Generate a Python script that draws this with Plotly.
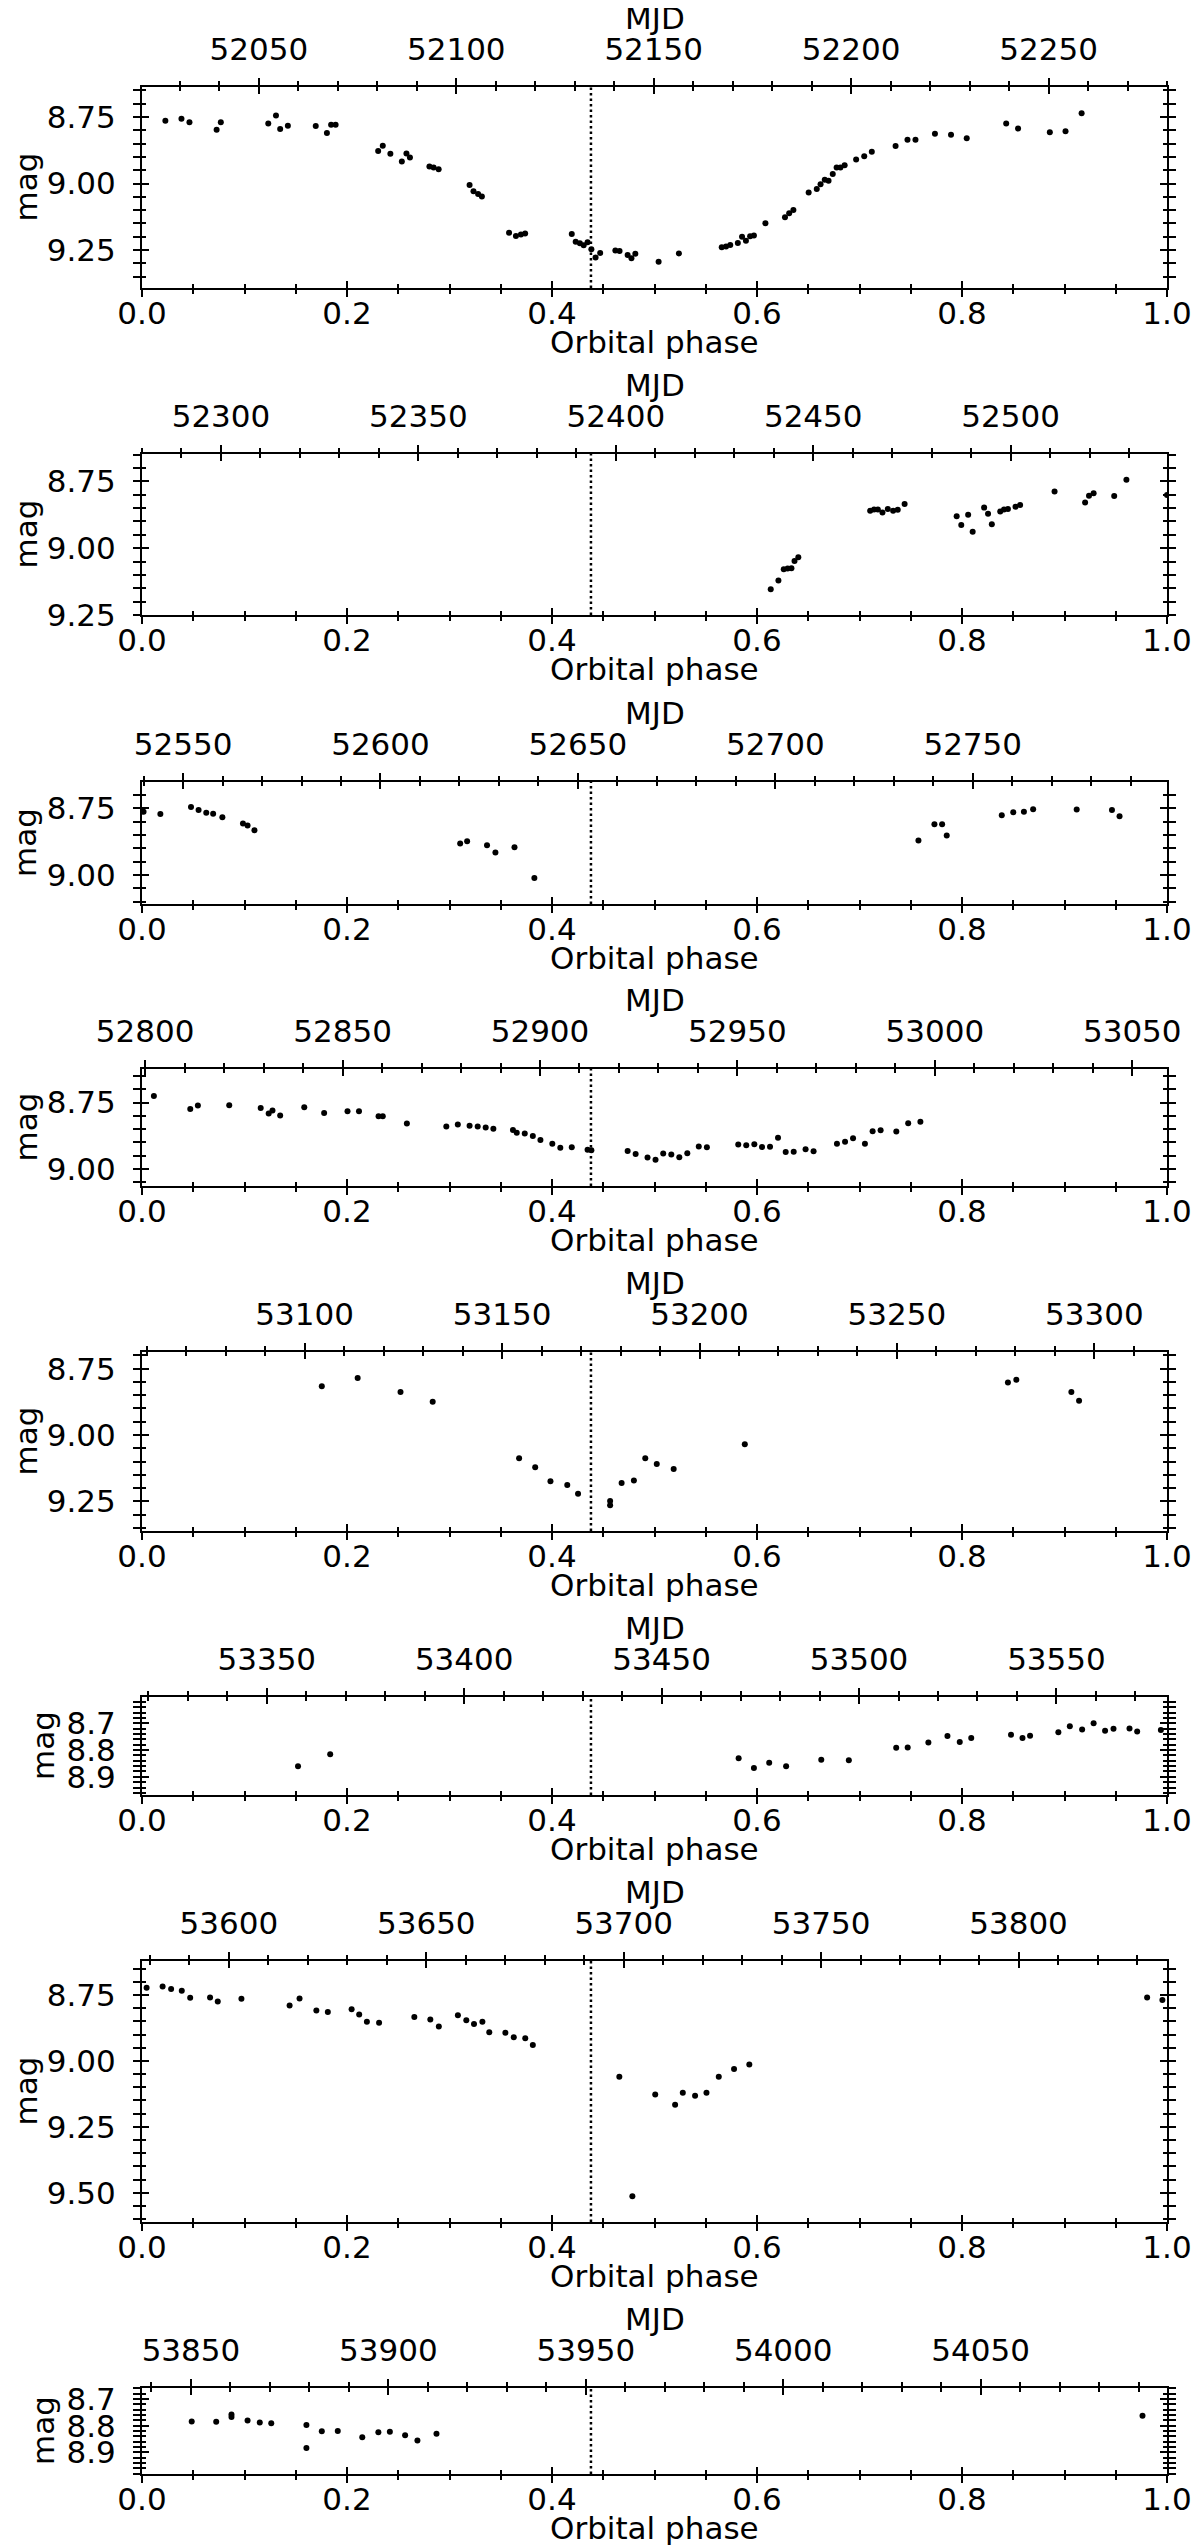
import plotly.graph_objects as go

# orbital ephemeris used for the MJD (top) axes
ORBIT_T0 = 52020.4
PERIOD = 259.6
PHASE_LINE = 0.438

# one list pair per orbital cycle
phase_c1 = [0.0228, 0.0385, 0.0463, 0.0728, 0.0769, 0.1232, 0.1307, 0.1348, 0.1423, 0.1695,
            0.1804, 0.1845, 0.1889, 0.2304, 0.2349, 0.2423, 0.2535, 0.2580, 0.2614, 0.2804,
            0.2845, 0.2894, 0.3196, 0.3234, 0.3279, 0.3316, 0.3581, 0.3648, 0.3697, 0.3738,
            0.4193, 0.4231, 0.4272, 0.4309, 0.4347, 0.4384, 0.4425, 0.4470, 0.4618, 0.4659,
            0.4738, 0.4775, 0.4813, 0.5040, 0.5238, 0.5656, 0.5698, 0.5739, 0.5813, 0.5854,
            0.5892, 0.5933, 0.5970, 0.6082, 0.6273, 0.6314, 0.6355, 0.6504, 0.6583, 0.6620,
            0.6661, 0.6698, 0.6739, 0.6777, 0.6814, 0.6855, 0.6967, 0.7046, 0.7120, 0.7352,
            0.7468, 0.7546, 0.7736, 0.7893, 0.8046, 0.8431, 0.8547, 0.8857, 0.9010, 0.9167]
mag_c1 = [8.764, 8.756, 8.770, 8.798, 8.770, 8.774, 8.744, 8.795, 8.783, 8.784,
          8.810, 8.779, 8.779, 8.878, 8.858, 8.888, 8.917, 8.887, 8.902, 8.936,
          8.940, 8.946, 9.006, 9.029, 9.039, 9.049, 9.185, 9.197, 9.192, 9.188,
          9.190, 9.219, 9.225, 9.232, 9.221, 9.247, 9.278, 9.261, 9.252, 9.254,
          9.269, 9.281, 9.264, 9.294, 9.263, 9.240, 9.237, 9.231, 9.224, 9.200,
          9.215, 9.198, 9.196, 9.149, 9.127, 9.112, 9.100, 9.034, 9.021, 9.003,
          8.986, 8.990, 8.964, 8.940, 8.940, 8.931, 8.910, 8.897, 8.881, 8.859,
          8.835, 8.835, 8.813, 8.817, 8.830, 8.774, 8.793, 8.807, 8.803, 8.736]

phase_c2 = [0.6134, 0.6209, 0.6261, 0.6299, 0.6336, 0.6366, 0.6403, 0.7104, 0.7142, 0.7179,
            0.7224, 0.7276, 0.7328, 0.7373, 0.7440, 0.7948, 0.7993, 0.8060, 0.8104, 0.8216,
            0.8254, 0.8291, 0.8373, 0.8410, 0.8448, 0.8522, 0.8567, 0.8903, 0.9201, 0.9239,
            0.9284, 0.9485, 0.9604, 1.0]
mag_c2 = [9.154, 9.121, 9.079, 9.076, 9.075, 9.048, 9.034, 8.860, 8.855, 8.855,
          8.866, 8.853, 8.860, 8.856, 8.835, 8.880, 8.913, 8.875, 8.938, 8.848,
          8.871, 8.910, 8.863, 8.855, 8.853, 8.845, 8.838, 8.788, 8.829, 8.804,
          8.794, 8.805, 8.744, 8.801]

phase_c3 = [0.0015, 0.0179, 0.0478, 0.0552, 0.0627, 0.0694, 0.0784, 0.0985, 0.1030, 0.1097,
            0.3104, 0.3172, 0.3366, 0.3448, 0.3634, 0.3828, 0.7575, 0.7731, 0.7806, 0.7851,
            0.8388, 0.8500, 0.8604, 0.8694, 0.9119, 0.9463, 0.9537]
mag_c3 = [8.763, 8.771, 8.745, 8.756, 8.766, 8.770, 8.783, 8.807, 8.814, 8.832,
          8.882, 8.873, 8.888, 8.916, 8.896, 9.011, 8.871, 8.810, 8.810, 8.852,
          8.776, 8.765, 8.763, 8.753, 8.754, 8.756, 8.780]

phase_c4 = [0.0116, 0.0471, 0.0545, 0.0851, 0.1158, 0.1236, 0.1273, 0.1348, 0.1583, 0.1777,
            0.2005, 0.2117, 0.2308, 0.2349, 0.2584, 0.2969, 0.3081, 0.3196, 0.3275, 0.3353,
            0.3428, 0.3619, 0.3656, 0.3734, 0.3813, 0.3887, 0.4003, 0.4081, 0.4193, 0.4347,
            0.4384, 0.4738, 0.4816, 0.4932, 0.5010, 0.5085, 0.5164, 0.5242, 0.5320, 0.5432,
            0.5511, 0.5817, 0.5895, 0.5974, 0.6049, 0.6127, 0.6205, 0.6280, 0.6358, 0.6474,
            0.6552, 0.6780, 0.6859, 0.6937, 0.7053, 0.7128, 0.7206, 0.7359, 0.7475, 0.7594]
mag_c4 = [8.726, 8.774, 8.761, 8.760, 8.771, 8.791, 8.780, 8.799, 8.768, 8.789,
          8.783, 8.783, 8.802, 8.802, 8.829, 8.840, 8.833, 8.837, 8.840, 8.844,
          8.849, 8.853, 8.864, 8.867, 8.876, 8.891, 8.905, 8.920, 8.918, 8.928,
          8.930, 8.932, 8.944, 8.957, 8.965, 8.942, 8.946, 8.956, 8.941, 8.915,
          8.918, 8.908, 8.911, 8.907, 8.917, 8.916, 8.883, 8.936, 8.935, 8.926,
          8.933, 8.905, 8.898, 8.884, 8.905, 8.858, 8.854, 8.859, 8.828, 8.822]

phase_c5 = [0.1754, 0.2104, 0.2522, 0.2836, 0.3679, 0.3836, 0.3985, 0.4149, 0.4254, 0.4567,
            0.4567, 0.4679, 0.4799, 0.4910, 0.5022, 0.5187, 0.5881, 0.8448, 0.8530, 0.9067,
            0.9142]
mag_c5 = [8.816, 8.785, 8.838, 8.875, 9.088, 9.122, 9.174, 9.189, 9.222, 9.249,
          9.265, 9.181, 9.172, 9.088, 9.109, 9.128, 9.035, 8.802, 8.792, 8.838,
          8.871]

phase_c6 = [0.1522, 0.1836, 0.5821, 0.5970, 0.6119, 0.6284, 0.6627, 0.6896, 0.7358, 0.7470,
            0.7672, 0.7858, 0.7978, 0.8090, 0.8478, 0.8590, 0.8664, 0.8940, 0.9052, 0.9172,
            0.9284, 0.9396, 0.9478, 0.9634, 0.9709, 0.9940]
mag_c6 = [8.861, 8.816, 8.831, 8.867, 8.848, 8.861, 8.836, 8.838, 8.792, 8.791,
          8.772, 8.748, 8.770, 8.755, 8.743, 8.755, 8.747, 8.734, 8.711, 8.723,
          8.700, 8.728, 8.721, 8.720, 8.731, 8.725]

phase_c7 = [0.0045, 0.0201, 0.0284, 0.0388, 0.0470, 0.0664, 0.0739, 0.0970, 0.1440, 0.1537,
            0.1701, 0.1813, 0.2045, 0.2119, 0.2194, 0.2313, 0.2657, 0.2813, 0.2896, 0.3082,
            0.3164, 0.3239, 0.3321, 0.3388, 0.3545, 0.3627, 0.3739, 0.3813, 0.4657, 0.4784,
            0.5007, 0.5201, 0.5276, 0.5396, 0.5507, 0.5627, 0.5776, 0.5925, 0.9806, 0.9955]
mag_c7 = [8.722, 8.718, 8.727, 8.734, 8.760, 8.759, 8.775, 8.764, 8.790, 8.763,
          8.809, 8.814, 8.804, 8.824, 8.851, 8.855, 8.833, 8.843, 8.869, 8.827,
          8.846, 8.860, 8.851, 8.891, 8.893, 8.910, 8.914, 8.940, 9.060, 9.513,
          9.127, 9.166, 9.121, 9.132, 9.121, 9.060, 9.031, 9.014, 8.759, 8.769]

phase_c8 = [0.0485, 0.0724, 0.0873, 0.0873, 0.1030, 0.1149, 0.1261, 0.1604, 0.1604, 0.1754,
            0.1910, 0.2149, 0.2306, 0.2418, 0.2567, 0.2687, 0.2873, 0.9761]
mag_c8 = [8.784, 8.785, 8.768, 8.758, 8.781, 8.788, 8.791, 8.798, 8.884, 8.821,
          8.820, 8.843, 8.825, 8.823, 8.836, 8.856, 8.830, 8.763]

phases = [phase_c1, phase_c2, phase_c3, phase_c4, phase_c5, phase_c6, phase_c7, phase_c8]
mags = [mag_c1, mag_c2, mag_c3, mag_c4, mag_c5, mag_c6, mag_c7, mag_c8]

# magnitude limits (bright, faint) and major step per panel
mag_lims = [(8.637, 9.393), (8.6475, 9.25), (8.651, 9.109), (8.624, 9.064),
            (8.687, 9.362), (8.602, 8.968), (8.621, 9.611), (8.659, 8.981)]
mag_steps = [0.25, 0.25, 0.25, 0.25, 0.25, 0.1, 0.25, 0.1]

# panel frame positions in page pixels (top, bottom)
W, H = 1200, 2546
L, R = 134, 41
panel_px = [(79, 280), (446, 607), (774, 896), (1061, 1178),
            (1344, 1523), (1689, 1787), (1953, 2214), (2380, 2466)]

FONT = dict(family="DejaVu Sans", size=31, color="black")


def nm(letter, n):
    return letter if n == 1 else f"{letter}{n}"


def key(letter, n):
    return f"{letter}axis" if n == 1 else f"{letter}axis{n}"


def py(px):
    return (H - px) / H


def px_x(px):
    return (px - L) / (W - L - R)


common = dict(showline=True, linecolor="black", linewidth=2, showgrid=False,
              zeroline=False, tickcolor="black", tickwidth=2, ticklen=7,
              tickfont=FONT, automargin=False, fixedrange=True)


def minor(side, dt):
    return dict(dtick=dt, ticks=side, ticklen=4, tickwidth=1.5,
                tickcolor="black", showgrid=False)


fig = go.Figure()
layout = {}
notes = []

for i in range(8):
    xb, xbi, xm, xmi = 4 * i + 1, 4 * i + 2, 4 * i + 3, 4 * i + 4
    yb, ybi = 2 * i + 1, 2 * i + 2
    top, bot = panel_px[i]
    lo, hi = mag_lims[i]
    step = mag_steps[i]
    t_start = ORBIT_T0 + i * PERIOD

    fig.add_trace(go.Scatter(
        x=phases[i], y=mags[i], mode="markers",
        marker=dict(color="black", size=6),
        xaxis=nm("x", xb), yaxis=nm("y", yb), showlegend=False))
    # empty traces so that the overlay axes get drawn
    for xa, ya in [(xbi, yb), (xm, yb), (xmi, yb), (xb, ybi)]:
        fig.add_trace(go.Scatter(x=[], y=[], xaxis=nm("x", xa), yaxis=nm("y", ya),
                                 showlegend=False, hoverinfo="skip"))

    layout[key("x", xb)] = dict(common, anchor=nm("y", yb), domain=[0, 1], side="bottom",
                                range=[0, 1], tick0=0, dtick=0.2, tickformat=".1f",
                                ticks="outside", minor=minor("outside", 0.05),
                                ticklabelstandoff=-10)
    layout[key("x", xbi)] = dict(common, anchor=nm("y", yb), overlaying=nm("x", xb),
                                 side="bottom", range=[0, 1], tick0=0, dtick=0.2,
                                 ticks="inside", minor=minor("inside", 0.05),
                                 showticklabels=False)
    layout[key("x", xm)] = dict(common, anchor=nm("y", yb), overlaying=nm("x", xb),
                                side="top", range=[t_start, t_start + PERIOD], tick0=0,
                                dtick=50, tickformat="d", ticks="outside",
                                minor=minor("outside", 10), ticklabelstandoff=6)
    layout[key("x", xmi)] = dict(common, anchor=nm("y", yb), overlaying=nm("x", xb),
                                 side="top", range=[t_start, t_start + PERIOD], tick0=0,
                                 dtick=50, ticks="inside", minor=minor("inside", 10),
                                 showticklabels=False)
    fmt = ".2f" if step == 0.25 else ".1f"
    layout[key("y", yb)] = dict(common, anchor=nm("x", xb),
                                domain=[py(bot), py(top)], range=[hi, lo],
                                tick0=0, dtick=step, tickformat=fmt, ticks="outside",
                                mirror="allticks", minor=minor("outside", step / 5),
                                ticklabelstandoff=11)
    layout[key("y", ybi)] = dict(common, anchor=nm("x", xb), overlaying=nm("y", yb),
                                 range=[hi, lo], tick0=0, dtick=step, ticks="inside",
                                 mirror="allticks", minor=minor("inside", step / 5),
                                 showticklabels=False)

    fig.add_shape(type="line", xref=nm("x", xb), yref=nm("y", yb) + " domain",
                  x0=PHASE_LINE, x1=PHASE_LINE, y0=0, y1=1,
                  line=dict(color="black", width=2.5, dash="2.5px,3px"))

    # axis titles placed as annotations
    notes.append(dict(text="MJD", x=0.5, y=py(top - 69)))
    notes.append(dict(text="Orbital phase", x=0.5, y=py(bot + 54)))
    mag_x = 17 if step == 0.25 else 35
    notes.append(dict(text="mag", x=px_x(mag_x), y=py((top + bot) / 2), textangle=-90))

for n in notes:
    fig.add_annotation(xref="paper", yref="paper", showarrow=False, font=FONT,
                       xanchor="center", yanchor="middle", **n)

fig.update_layout(**layout)
fig.update_layout(width=W, height=H, margin=dict(l=L, r=R, t=0, b=0),
                  plot_bgcolor="white", paper_bgcolor="white", font=FONT)

fig.write_html("out.html")
